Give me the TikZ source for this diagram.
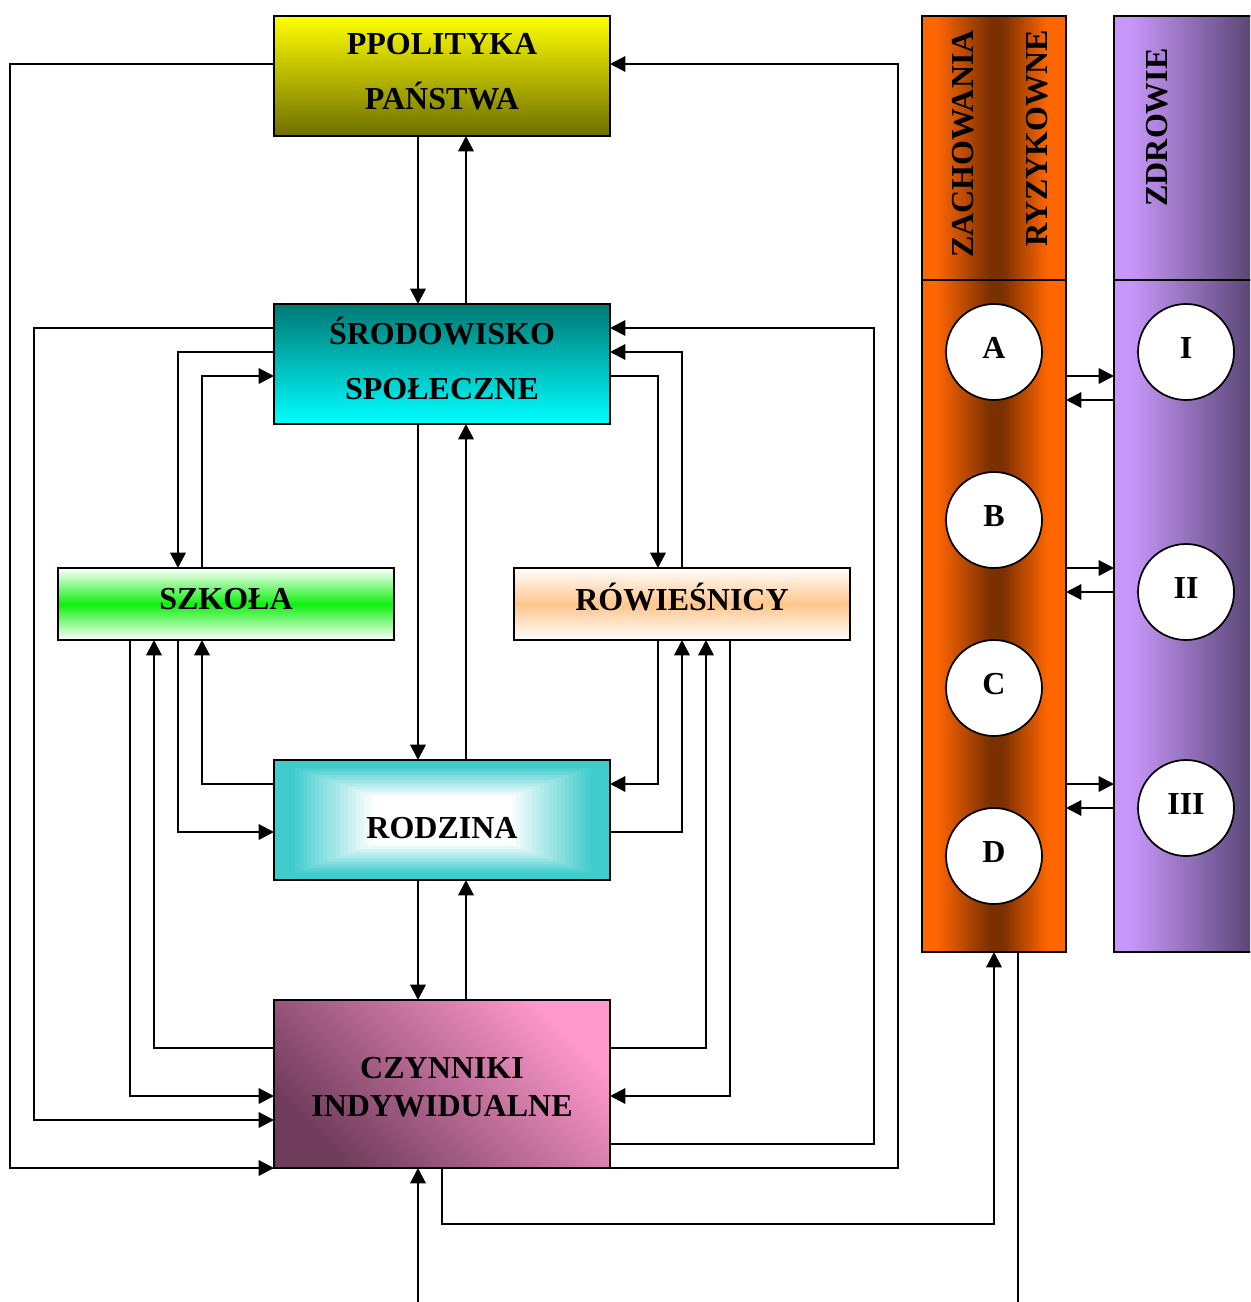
\documentclass[tikz,border=0pt]{standalone}
\usepackage{fontspec}
\setmainfont{Liberation Serif}
\usetikzlibrary{arrows.meta,backgrounds,calc}

\definecolor{polTop}{RGB}{255,255,0}
\definecolor{polBot}{RGB}{110,110,0}
\definecolor{sroTop}{RGB}{0,120,116}
\definecolor{sroBot}{RGB}{0,255,255}
\definecolor{szkMid}{RGB}{16,240,16}
\definecolor{rowMid}{RGB}{255,198,140}
\definecolor{rodEdge}{RGB}{64,204,204}
\definecolor{czyLight}{RGB}{255,153,204}
\definecolor{czyDark}{RGB}{112,60,92}
\definecolor{zor}{RGB}{255,102,0}
\definecolor{zbr}{RGB}{122,48,0}
\definecolor{zdl}{RGB}{198,150,248}
\definecolor{zdd}{RGB}{92,72,120}

\pgfdeclarehorizontalshading{zachshade}{100bp}{color(0bp)=(zor); color(30bp)=(zor); color(48.5bp)=(zbr); color(53bp)=(zbr); color(68.5bp)=(zor); color(100bp)=(zor)}
\pgfdeclarehorizontalshading{zdrshade}{100bp}{color(0bp)=(zdl); color(31bp)=(zdl); color(70bp)=(zdd); color(100bp)=(zdd)}

\begin{document}
\begin{tikzpicture}[x=0.75pt,y=-0.75pt,
  conn/.style={line width=1.7pt},
  arr/.style={conn,-{Triangle[length=11.5pt,width=11.5pt]}},
  boxbase/.style={draw,line width=1.7pt,minimum width=252pt,inner sep=0pt,outer sep=0pt,align=center},
  bigbox/.style={boxbase,minimum height=90pt,font=\bfseries\fontsize{24}{41.25}\selectfont,text height=57.25pt},
  flatbox/.style={boxbase,minimum height=54pt,font=\bfseries\fontsize{24}{28}\selectfont,text height=16pt},
  ring/.style={circle,draw,fill=white,line width=1.3pt,minimum size=72pt,inner sep=0pt,outer sep=0pt,
     font=\bfseries\fontsize{24}{28}\selectfont,text height=16pt,text depth=7pt},
  coltext/.style={inner sep=0pt,font=\bfseries\fontsize{24}{28}\selectfont},
  colbox/.style={draw,line width=1.7pt,minimum height=702pt,inner sep=0pt,outer sep=0pt}
]
\useasboundingbox (0,0) rectangle (1250,1302);
\clip (0,0) rectangle (1250,1302);

% main boxes
\node[bigbox,top color=polTop,bottom color=polBot,text depth=6.25pt] (pol) at (442,76) {PPOLITYKA\\PAŃSTWA};
\node[bigbox,top color=sroTop,bottom color=sroBot,text depth=4.75pt] (sro) at (442,364) {ŚRODOWISKO\\SPOŁECZNE};
\node[flatbox,top color=white,bottom color=white,middle color=szkMid,text depth=8.5pt] (szk) at (226,604) {SZKOŁA};
\node[flatbox,top color=white,bottom color=white,middle color=rowMid,text depth=7pt] (row) at (682,604) {RÓWIEŚNICY};
\node[boxbase,minimum height=90pt,font=\bfseries\fontsize{24}{28}\selectfont,text height=27pt,text depth=0pt] (rod) at (442,820) {RODZINA};
\node[boxbase,minimum height=126pt,font=\bfseries\fontsize{24}{28.5}\selectfont,text height=48pt,text depth=0pt,
      top color=czyLight,bottom color=czyDark,shading angle=-45] (czy) at (442,1084) {CZYNNIKI\\INDYWIDUALNE};

\begin{scope}[on background layer]
\foreach \i in {0,...,24}{
  \pgfmathtruncatemacro\pct{min(100,100*(24-\i)/20)}
  \fill[rodEdge!\pct!white] ($(rod.north west)+(\i*4.1,\i*1.5)$) rectangle ($(rod.south east)-(\i*4.1,\i*1.5)$);
}
\end{scope}

% right columns
\node[colbox,minimum width=108pt,shading=zachshade] (zach) at (994,484) {};
\node[colbox,minimum width=112.5pt,shading=zdrshade] (zdr) at (1189,484) {};
\draw[conn] (zach.west |- 0,280) -- (zach.east |- 0,280);
\draw[conn] (zdr.west |- 0,280) -- (zdr.east |- 0,280);
\node[coltext,rotate=90,anchor=base east] (tZach) at (973,30) {ZACHOWANIA};
\node[coltext,rotate=90,anchor=base east] (tRyz) at (1047,30) {RYZYKOWNE};
\node[coltext,rotate=90,anchor=base east] (tZdr) at (1167,48) {ZDROWIE};

\node[ring] (cA) at (994,352) {A};
\node[ring] (cB) at (994,520) {B};
\node[ring] (cC) at (994,688) {C};
\node[ring] (cD) at (994,856) {D};
\node[ring] (cI) at (1186,352) {I};
\node[ring] (cII) at (1186,592) {II};
\node[ring] (cIII) at (1186,808) {III};

% arrows between columns
\draw[arr] (zach.east |- 0,376) -- (zdr.west |- 0,376);
\draw[arr] (zdr.west |- 0,400) -- (zach.east |- 0,400);
\draw[arr] (zach.east |- 0,568) -- (zdr.west |- 0,568);
\draw[arr] (zdr.west |- 0,592) -- (zach.east |- 0,592);
\draw[arr] (zach.east |- 0,784) -- (zdr.west |- 0,784);
\draw[arr] (zdr.west |- 0,808) -- (zach.east |- 0,808);

% vertical main axis
\draw[arr] (418,0 |- pol.south) -- (418,0 |- sro.north);
\draw[arr] (466,0 |- sro.north) -- (466,0 |- pol.south);
\draw[arr] (418,0 |- sro.south) -- (418,0 |- rod.north);
\draw[arr] (466,0 |- rod.north) -- (466,0 |- sro.south);
\draw[arr] (418,0 |- rod.south) -- (418,0 |- czy.north);
\draw[arr] (466,0 |- czy.north) -- (466,0 |- rod.south);
\coordinate (inB) at (418,1302);
\draw[arr] (inB) -- (418,0 |- czy.south);
\draw[arr] (czy.south) -- ++(0,56) -| (zach.south);
\coordinate (outB) at (1018,1302);
\draw[conn] (zach.south -| 1018,0) -- (outB);

% outer loops
\draw[arr] (pol.west |- 0,64) -| (10,1168) -- (czy.south west);
\draw[arr] (czy.south east) -- (898,1168) |- (pol.east |- 0,64);
\draw[arr] (sro.west |- 0,328) -| (34,1120) -- (czy.west |- 0,1120);
\draw[arr] (czy.east |- 0,1144) -| (874,328) -- (sro.east |- 0,328);

% srodowisko <-> szkola / rowiesnicy
\draw[arr] (sro.west |- 0,352) -| (178,0 |- szk.north);
\draw[arr] (202,0 |- szk.north) |- (sro.west |- 0,376);
\draw[arr] (sro.east |- 0,376) -| (658,0 |- row.north);
\draw[arr] (682,0 |- row.north) |- (sro.east |- 0,352);

% szkola <-> czynniki / rodzina
\draw[arr] (130,0 |- szk.south) |- (czy.west |- 0,1096);
\draw[arr] (czy.west |- 0,1048) -| (154,0 |- szk.south);
\draw[arr] (178,0 |- szk.south) |- (rod.west |- 0,832);
\draw[arr] (rod.west |- 0,784) -| (202,0 |- szk.south);

% rowiesnicy <-> rodzina / czynniki
\draw[arr] (658,0 |- row.south) |- (rod.east |- 0,784);
\draw[arr] (rod.east |- 0,832) -| (682,0 |- row.south);
\draw[arr] (czy.east |- 0,1048) -| (706,0 |- row.south);
\draw[arr] (730,0 |- row.south) |- (czy.east |- 0,1096);
\end{tikzpicture}
\end{document}
